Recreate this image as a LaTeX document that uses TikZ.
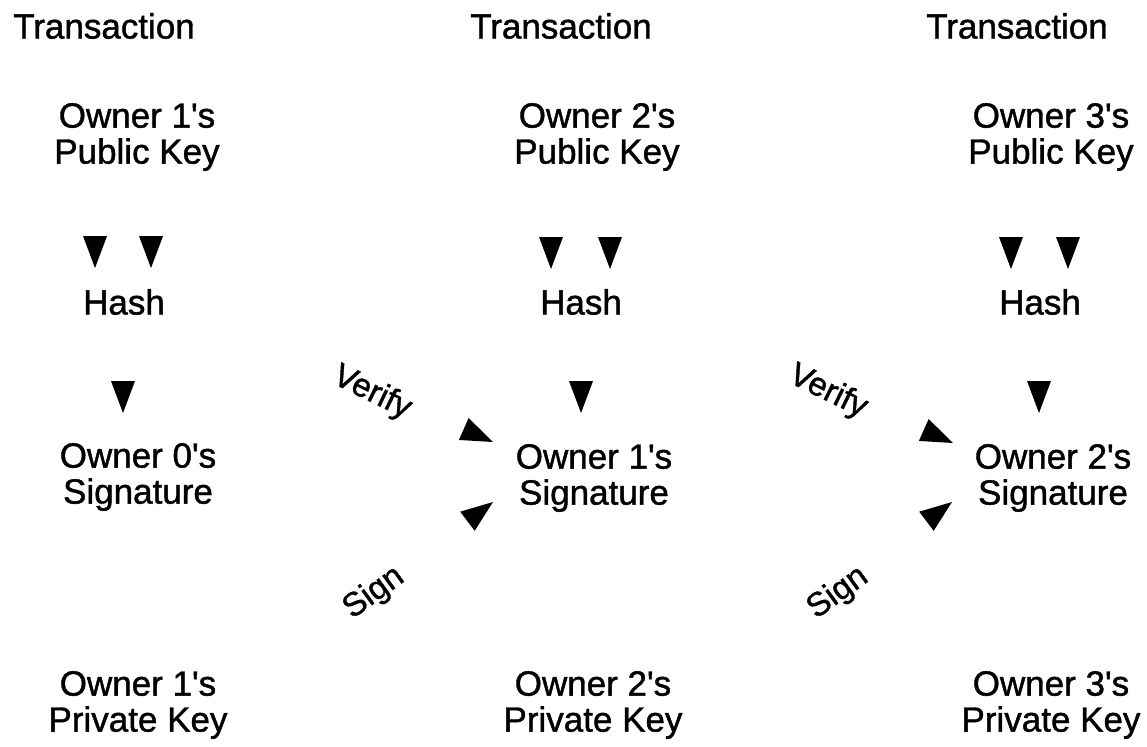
\documentclass[tikz,border=0pt]{standalone}
\usepackage{fontspec}
\setmainfont[FakeBold=1.2]{Liberation Sans}
\newcommand{\ap}{\textquotesingle}
\begin{document}
\begin{tikzpicture}[x=0.5pt,y=-0.5pt,
  lbl/.style={inner sep=0pt, align=center, font=\fontsize{17.5}{18}\selectfont},
  side/.style={inner sep=0pt, font=\fontsize{16.5}{17}\selectfont},
  pics/tiphead/.style={code={\fill (0,0) -- (-32,12) -- (-32,-12) -- cycle;}}]
\useasboundingbox (0,0) rectangle (1147,746);

% column headings
\node[lbl] (t1) at (104,26) {Transaction};
\node[lbl] (t2) at (561,26) {Transaction};
\node[lbl] (t3) at (1017,26) {Transaction};

% public keys
\node[lbl] (pub1) at (137,137) {Owner 1\ap s\\Public Key};
\node[lbl] (pub2) at (597,137) {Owner 2\ap s\\Public Key};
\node[lbl] (pub3) at (1051,137) {Owner 3\ap s\\Public Key};

% hashes
\node[lbl] (hash1) at (124,302) {Hash};
\node[lbl] (hash2) at (581,302) {Hash};
\node[lbl] (hash3) at (1040,302) {Hash};

% signatures
\node[lbl] (sig0) at (138,477) {Owner 0\ap s\\Signature};
\node[lbl] (sig1) at (594,478) {Owner 1\ap s\\Signature};
\node[lbl] (sig2) at (1053,478) {Owner 2\ap s\\Signature};

% private keys
\node[lbl] (priv1) at (138,705) {Owner 1\ap s\\Private Key};
\node[lbl] (priv2) at (593,705) {Owner 2\ap s\\Private Key};
\node[lbl] (priv3) at (1051,705) {Owner 3\ap s\\Private Key};

% verify / sign labels
\node[side, rotate=-26] (ver1) at (372,393) {Verify};
\node[side, rotate=-26] (ver2) at (828,392) {Verify};
\node[side, rotate=36] (sgn1) at (374,593) {Sign};
\node[side, rotate=36] (sgn2) at (838,593) {Sign};

% arrowheads into the hash
\pic[rotate=-90] at (95,268) {tiphead};
\pic[rotate=-90] at (151,268) {tiphead};
\pic[rotate=-90] at (551,269) {tiphead};
\pic[rotate=-90] at (610,269) {tiphead};
\pic[rotate=-90] at (1011,269) {tiphead};
\pic[rotate=-90] at (1068,269) {tiphead};

% arrowheads from hash into signature
\pic[rotate=-90] at (123,413) {tiphead};
\pic[rotate=-90] at (581,413) {tiphead};
\pic[rotate=-90] at (1039,413) {tiphead};

% verify and sign arrowheads
\pic[rotate=-24] at (493,442) {tiphead};
\pic[rotate=-24] at (953,443) {tiphead};
\pic[rotate=37] at (493,502) {tiphead};
\pic[rotate=37] at (952,502) {tiphead};
\end{tikzpicture}
\end{document}
